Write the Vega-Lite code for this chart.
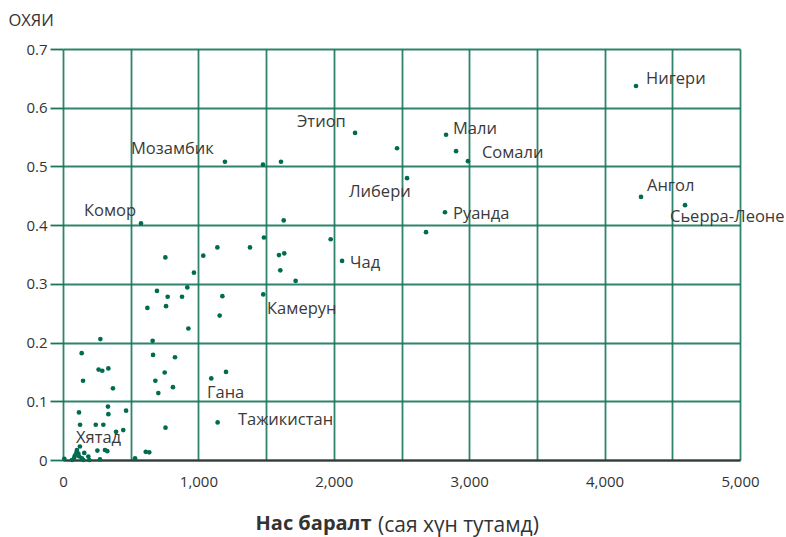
{
  "$schema": "https://vega.github.io/schema/vega-lite/v6.json",
  "width": 677,
  "height": 411,
  "autosize": {"type": "none"},
  "padding": {"left": 63, "top": 49, "right": 46, "bottom": 77},
  "background": "white",
  "config": {
    "view": {"stroke": null},
    "font": "Open Sans",
    "text": {"font": "Open Sans"}
  },
  "title": {
    "text": "(сая хүн тутамд)",
    "orient": "bottom",
    "anchor": "start",
    "frame": "group",
    "dx": 315,
    "dy": -18,
    "offset": 0,
    "font": "Open Sans",
    "fontSize": 21,
    "fontWeight": "normal",
    "color": "#333333"
  },
  "datasets": {
    "points": [
      {"x": 10, "y": 0.002}, {"x": 66, "y": 0.0}, {"x": 89, "y": 0.008}, {"x": 103, "y": 0.017},
      {"x": 113, "y": 0.011}, {"x": 125, "y": 0.023}, {"x": 120, "y": 0.006}, {"x": 150, "y": 0.0},
      {"x": 157, "y": 0.012}, {"x": 187, "y": 0.006}, {"x": 194, "y": 0.0}, {"x": 254, "y": 0.016},
      {"x": 273, "y": 0.001}, {"x": 310, "y": 0.017}, {"x": 327, "y": 0.015}, {"x": 83, "y": 0.004},
      {"x": 140, "y": 0.003}, {"x": 100, "y": 0.013},
      {"x": 118, "y": 0.081}, {"x": 332, "y": 0.091}, {"x": 335, "y": 0.078}, {"x": 466, "y": 0.084},
      {"x": 126, "y": 0.06}, {"x": 242, "y": 0.06}, {"x": 298, "y": 0.06}, {"x": 392, "y": 0.048},
      {"x": 445, "y": 0.051}, {"x": 757, "y": 0.055}, {"x": 532, "y": 0.003}, {"x": 611, "y": 0.014},
      {"x": 637, "y": 0.013}, {"x": 1142, "y": 0.064},
      {"x": 138, "y": 0.182}, {"x": 148, "y": 0.135}, {"x": 263, "y": 0.154}, {"x": 290, "y": 0.152},
      {"x": 335, "y": 0.156}, {"x": 369, "y": 0.122}, {"x": 276, "y": 0.206}, {"x": 662, "y": 0.203},
      {"x": 665, "y": 0.179}, {"x": 827, "y": 0.175}, {"x": 682, "y": 0.135}, {"x": 751, "y": 0.149},
      {"x": 704, "y": 0.114}, {"x": 812, "y": 0.124}, {"x": 1095, "y": 0.139}, {"x": 1204, "y": 0.15},
      {"x": 623, "y": 0.259}, {"x": 761, "y": 0.262}, {"x": 1157, "y": 0.246}, {"x": 926, "y": 0.224},
      {"x": 694, "y": 0.288}, {"x": 773, "y": 0.278}, {"x": 879, "y": 0.278}, {"x": 1177, "y": 0.279},
      {"x": 1479, "y": 0.282}, {"x": 918, "y": 0.294}, {"x": 967, "y": 0.319}, {"x": 756, "y": 0.345},
      {"x": 1036, "y": 0.348}, {"x": 1140, "y": 0.362}, {"x": 1381, "y": 0.362}, {"x": 1484, "y": 0.379},
      {"x": 1595, "y": 0.349}, {"x": 1634, "y": 0.352}, {"x": 1605, "y": 0.323}, {"x": 1718, "y": 0.305},
      {"x": 1977, "y": 0.376}, {"x": 2061, "y": 0.339}, {"x": 576, "y": 0.403}, {"x": 1630, "y": 0.408},
      {"x": 1196, "y": 0.508}, {"x": 1477, "y": 0.503}, {"x": 1610, "y": 0.508}, {"x": 2157, "y": 0.557},
      {"x": 2467, "y": 0.531}, {"x": 2829, "y": 0.554}, {"x": 2903, "y": 0.526}, {"x": 2991, "y": 0.509},
      {"x": 2541, "y": 0.48}, {"x": 2821, "y": 0.422}, {"x": 2681, "y": 0.388}, {"x": 4232, "y": 0.637},
      {"x": 4269, "y": 0.448}, {"x": 4594, "y": 0.434}
    ],
    "labels": [
      {"x": 4306, "y": 0.649, "label": "Нигери"},
      {"x": 2880, "y": 0.564, "label": "Мали"},
      {"x": 3094, "y": 0.523, "label": "Сомали"},
      {"x": 1728, "y": 0.576, "label": "Этиоп"},
      {"x": 2112, "y": 0.457, "label": "Либери"},
      {"x": 2880, "y": 0.419, "label": "Руанда"},
      {"x": 4313, "y": 0.467, "label": "Ангол"},
      {"x": 4483, "y": 0.414, "label": "Сьерра-Леоне"},
      {"x": 502, "y": 0.53, "label": "Мозамбик"},
      {"x": 155, "y": 0.424, "label": "Комор"},
      {"x": 2120, "y": 0.336, "label": "Чад"},
      {"x": 1507, "y": 0.257, "label": "Камерун"},
      {"x": 1063, "y": 0.114, "label": "Гана"},
      {"x": 1292, "y": 0.068, "label": "Тажикистан"},
      {"x": 96, "y": 0.037, "label": "Хятад"}
    ]
  },
  "layer": [
    {
      "data": {"name": "points"},
      "mark": {"type": "point", "filled": true, "size": 22, "opacity": 1, "color": "#006b4f", "clip": false},
      "encoding": {
        "x": {
          "field": "x", "type": "quantitative",
          "scale": {"domain": [0, 5000], "nice": false, "zero": true},
          "axis": {
            "values": [0, 500, 1000, 1500, 2000, 2500, 3000, 3500, 4000, 4500, 5000],
            "labelExpr": "datum.value % 1000 == 0 ? format(datum.value, ',') : ''",
            "labelFlush": false, "labelOverlap": false,
            "grid": true, "gridColor": "#17775c", "gridWidth": 1.8, "gridOpacity": 0.9,
            "ticks": false,
            "domain": true, "domainColor": "#2f3b37", "domainWidth": 2,
            "labelFont": "Open Sans", "labelFontSize": 15, "labelColor": "#333333", "labelPadding": 14,
            "title": "Нас баралт",
            "titleFont": "Open Sans", "titleFontSize": 20, "titleFontWeight": "bold", "titleColor": "#333333",
            "titleX": 192, "titleAlign": "left", "titleAnchor": null, "titlePadding": 24
          }
        },
        "y": {
          "field": "y", "type": "quantitative",
          "scale": {"domain": [0, 0.7], "nice": false},
          "axis": {
            "values": [0, 0.1, 0.2, 0.3, 0.4, 0.5, 0.6, 0.7],
            "labelExpr": "datum.value == 0 ? '0' : format(datum.value, '.1f')",
            "labelFlush": false,
            "grid": true, "gridColor": "#17775c", "gridWidth": 1.8, "gridOpacity": 0.9,
            "ticks": true, "tickColor": "#17775c", "tickSize": 13, "tickWidth": 1.8,
            "domain": false,
            "labelFont": "Open Sans", "labelFontSize": 15, "labelColor": "#333333", "labelPadding": 3,
            "title": "ОХЯИ",
            "titleFont": "Open Sans", "titleFontSize": 16.5, "titleFontWeight": "normal", "titleColor": "#333333",
            "titleAngle": 0, "titleX": -55, "titleY": -29, "titleAlign": "left", "titleBaseline": "middle", "titleAnchor": null
          }
        }
      }
    },
    {
      "data": {"name": "labels"},
      "mark": {"type": "text", "align": "left", "baseline": "middle", "font": "Open Sans", "fontSize": 16.5, "color": "#3a3a3a", "clip": false},
      "encoding": {
        "x": {"field": "x", "type": "quantitative"},
        "y": {"field": "y", "type": "quantitative"},
        "text": {"field": "label"}
      }
    }
  ]
}
